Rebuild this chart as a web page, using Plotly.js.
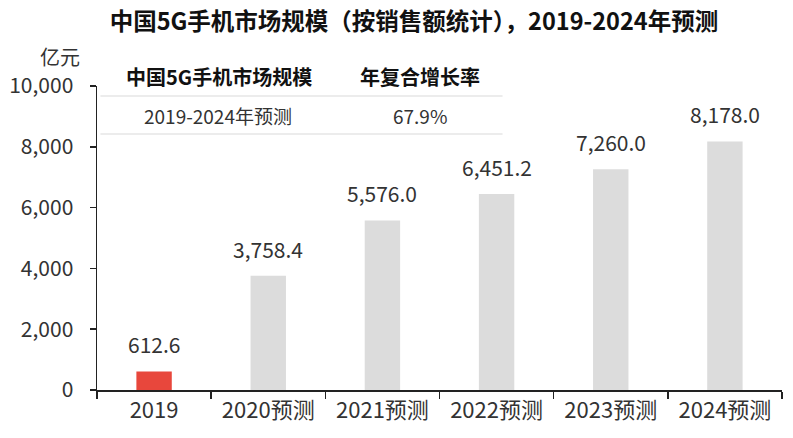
<!DOCTYPE html>
<html><head><meta charset="utf-8">
<script src="https://cdn.plot.ly/plotly-3.0.1.min.js"></script>
<style>body{margin:0;background:#fff}#c{width:793px;height:438px}</style>
</head><body><div id="c"></div>
<script>
const categories = ["2019","2020预测","2021预测","2022预测","2023预测","2024预测"];
const values = [612.6, 3758.4, 5576.0, 6451.2, 7260.0, 8178.0];
const barColors = ["#E8473C","#DCDCDC","#DCDCDC","#DCDCDC","#DCDCDC","#DCDCDC"];
const tableHeader = ["中国5G手机市场规模","年复合增长率"];
const tableRow = ["2019-2024年预测","67.9%"];
const yTicks = [0,2000,4000,6000,8000,10000];

const numFont = "Liberation Sans Narrow, Arial Narrow, Noto Sans CJK SC, sans-serif";
const cjk = "Noto Sans CJK SC, sans-serif";

const trace = {
  type: "bar", x: categories, y: values,
  marker: {color: barColors},
  width: 0.31,
  hoverinfo: "none"
};

const labelAnnotations = categories.map((c, i) => ({
  text: values[i].toLocaleString("en-US",{minimumFractionDigits:1,maximumFractionDigits:1}),
  x: i, y: values[i], xref: "x", yref: "y", xanchor: "center", yanchor: "bottom",
  yshift: 10, showarrow: false, font: {size: 21, color: "#333", family: numFont}
}));

const layout = {
  width: 793, height: 438,
  margin: {l: 97, r: 11, t: 86, b: 48},
  paper_bgcolor: "#fff", plot_bgcolor: "#fff",
  showlegend: false,
  title: {text: "<b>中国5G手机市场规模（按销售额统计），2019-2024年预测</b>",
          font: {family: cjk, size: 23.5, color: "#111"}, x: 0.522, xanchor: "center", y: 0.95, yanchor: "middle"},
  xaxis: {
    type: "category", categoryorder: "array", categoryarray: categories, range: [-0.5, 5.5],
    showline: true, linecolor: "#222", linewidth: 1.5,
    ticks: "outside", tickson: "boundaries", ticklen: 7, tickcolor: "#222", tickwidth: 1.5,
    tickfont: {family: numFont + "," + cjk, size: 22, color: "#333"}, tickangle: 0,
    showgrid: false, zeroline: false
  },
  yaxis: {
    range: [0, 10000], tickvals: yTicks, ticktext: yTicks.map(v => v.toLocaleString("en-US")),
    showline: true, linecolor: "#222", linewidth: 1.5,
    ticks: "outside", ticklen: 6, tickcolor: "#222", tickwidth: 1.5, ticklabelstandoff: 12,
    tickfont: {family: numFont, size: 21, color: "#333"},
    showgrid: false, zeroline: false
  },
  annotations: labelAnnotations.concat([
    {text: "亿元", xref: "paper", yref: "paper", x: -0.054, y: 1.097, xanchor: "center", yanchor: "middle",
     showarrow: false, font: {family: cjk, size: 20, color: "#333"}},
    {text: "<b>" + tableHeader[0] + "</b>", xref: "paper", yref: "paper", x: 0.178, y: 1.03, xanchor: "center", yanchor: "middle",
     showarrow: false, font: {family: cjk, size: 20, color: "#111"}},
    {text: "<b>" + tableHeader[1] + "</b>", xref: "paper", yref: "paper", x: 0.471, y: 1.03, xanchor: "center", yanchor: "middle",
     showarrow: false, font: {family: cjk, size: 20, color: "#111"}},
    {text: tableRow[0], xref: "paper", yref: "paper", x: 0.176, y: 0.904, xanchor: "center", yanchor: "middle",
     showarrow: false, font: {family: cjk, size: 19, color: "#333"}},
    {text: tableRow[1], xref: "paper", yref: "paper", x: 0.471, y: 0.904, xanchor: "center", yanchor: "middle",
     showarrow: false, font: {family: cjk, size: 19, color: "#333"}}
  ]),
  shapes: [
    {type: "line", xref: "paper", yref: "paper", x0: 0.005, x1: 0.592, y0: 0.967, y1: 0.967, line: {color: "#E6E6E6", width: 1.5}},
    {type: "line", xref: "paper", yref: "paper", x0: 0.005, x1: 0.592, y0: 0.842, y1: 0.842, line: {color: "#E6E6E6", width: 1.5}}
  ]
};
Plotly.newPlot("c", [trace], layout, {staticPlot: true, displayModeBar: false});
</script></body></html>
